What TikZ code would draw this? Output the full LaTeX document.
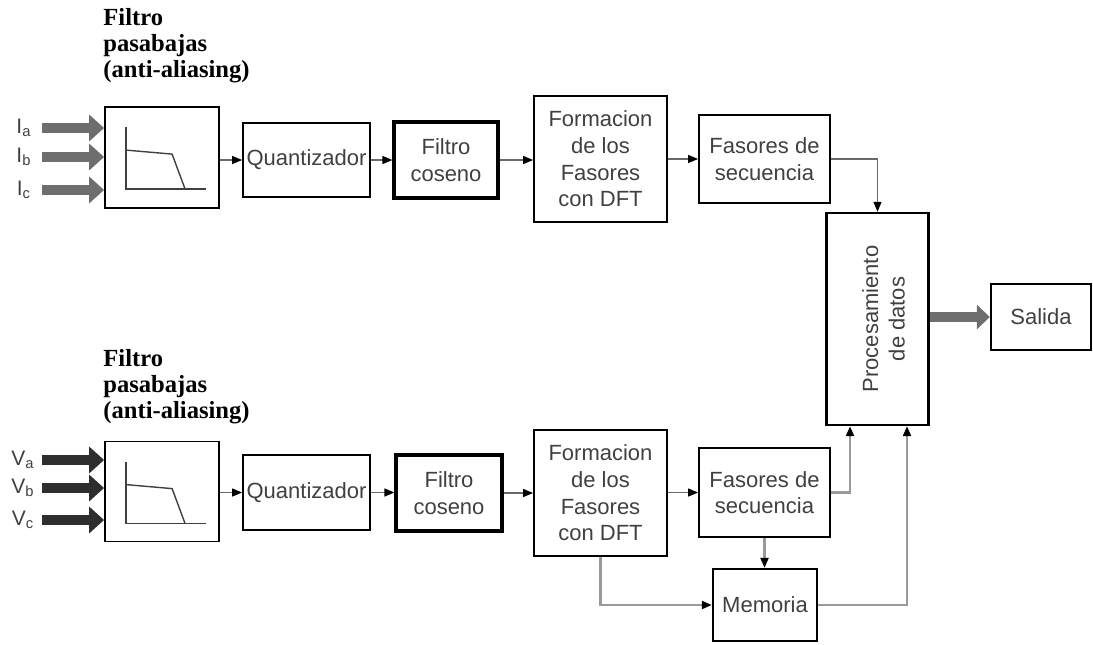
\documentclass[tikz,border=0pt]{standalone}
\usepackage{fontspec}
\setmainfont{Liberation Serif}
\setsansfont{Liberation Sans}
\usetikzlibrary{positioning, arrows.meta, calc}
\definecolor{bxtext}{HTML}{404040}
\definecolor{lngray}{HTML}{6A6A6A}
\definecolor{fbgray}{HTML}{9A9A9A}
\definecolor{inlight}{HTML}{6E6E6E}
\definecolor{indark}{HTML}{2E2E2E}

\begin{document}
\begin{tikzpicture}[x=0.5pt, y=-0.5pt,
    blk/.style={draw=black, line width=0.9pt, text=bxtext, font=\sffamily\fontsize{11}{13.3}\selectfont, align=center, inner sep=0pt},
    hv/.style={blk, line width=1.6pt},
    ln/.style={draw=lngray, line width=0.6pt, -{Triangle[length=5pt,width=4pt,color=black]}},
    fb/.style={ln, draw=fbgray, line width=1.1pt},
    inp/.style={line width=5pt, -{Triangle[length=7.5pt,width=13pt]}},
    lbl/.style={text=bxtext, font=\sffamily\fontsize{10.5}{12}\selectfont, inner sep=0pt},
    ttl/.style={font=\bfseries\fontsize{12.3}{13}\selectfont, align=left, anchor=north west, inner sep=0pt}]
  \useasboundingbox (0,0) rectangle (1093,644);

  % titles
  \node[ttl] (ttlA) at (103,8) {Filtro\\pasabajas\\(anti-aliasing)};
  \node[ttl] (ttlB) at (103,349) {Filtro\\pasabajas\\(anti-aliasing)};

  % upper chain (currents)
  \node[blk, minimum width=57pt, minimum height=50.5pt] (filtA) at (162,157.5) {};
  \node[blk, minimum width=63.5pt, minimum height=37pt] (quanA) at (306.5,160) {Quantizador};
  \node[hv, minimum width=52pt, minimum height=38pt] (cosA) at (446,160) {Filtro\\coseno};
  \node[blk, minimum width=66.5pt, minimum height=63pt] (dftA) at (600.5,159) {Formacion\\de los\\Fasores\\con DFT};
  \node[blk, minimum width=65.5pt, minimum height=44pt] (seqA) at (764.5,159) {Fasores de\\secuencia};

  % processing and output
  \node[blk, line width=1.2pt, minimum width=51pt, minimum height=106pt] (proc) at (877.5,319) {};
  \node[blk, draw=none, rotate=90] (procT) at ([xshift=3pt]proc.center) {Procesamiento\\de datos};
  \node[blk, line width=1.2pt, minimum width=50pt, minimum height=33pt] (sal) at (1041,317) {Salida};

  % lower chain (voltages)
  \node[blk, minimum width=57pt, minimum height=50pt] (filtB) at (162,491.5) {};
  \node[blk, minimum width=63.5pt, minimum height=37.5pt] (quanB) at (306.5,492.5) {Quantizador};
  \node[hv, minimum width=53pt, minimum height=38pt] (cosB) at (449,493) {Filtro\\coseno};
  \node[blk, minimum width=66.5pt, minimum height=63pt] (dftB) at (600.5,493) {Formacion\\de los\\Fasores\\con DFT};
  \node[blk, minimum width=65.5pt, minimum height=44.5pt] (seqB) at (764.5,492.5) {Fasores de\\secuencia};
  \node[blk, line width=1.2pt, minimum width=52pt, minimum height=36pt] (mem) at (765,605) {Memoria};

  % low-pass sketch inside the filters
  \foreach \f in {filtA,filtB}{
    \begin{scope}[shift={(\f.north west)}, line width=0.7pt, bxtext]
      \draw (22,21) -- (22,83) -- (102,83);
      \draw (22,44) -- (68,48) -- (81,83);
    \end{scope}
  }

  % inputs
  \foreach \n/\y in {a/128, b/157, c/190}{
    \node[lbl] (i\n) at (24,\y) {I\textsubscript{\n}};
    \coordinate (si\n) at (42,\y);
    \draw[inp, inlight] (si\n) -- (si\n -| filtA.west);
  }
  \foreach \n/\y in {a/460, b/488, c/520}{
    \node[lbl] (v\n) at (23,\y) {V\textsubscript{\n}};
    \coordinate (sv\n) at (42,\y);
    \draw[inp, indark] (sv\n) -- (sv\n -| filtB.west);
  }

  % upper connectors
  \draw[ln] (filtA.east |- quanA.west) -- (quanA.west);
  \draw[ln] (quanA) -- (cosA);
  \draw[ln] (cosA.east) -- (cosA.east -| dftA.west);
  \draw[ln] (dftA) -- (seqA);
  \draw[ln] (seqA.east) -| (proc.north);

  % lower connectors
  \draw[ln] (filtB.east |- quanB.west) -- (quanB.west);
  \draw[ln] (quanB.east) -- (quanB.east -| cosB.west);
  \draw[ln] (cosB.east) -- (cosB.east -| dftB.west);
  \draw[ln] (dftB.east |- seqB.west) -- (seqB.west);
  \draw[fb] (seqB.east) -| ($(proc.south)+(-27.5,0)$);
  \draw[fb] (seqB.south) -- (seqB.south |- mem.north);
  \draw[fb] (dftB.south) |- (mem.west);
  \draw[fb] (mem.east) -| ($(proc.south)+(29.5,0)$);

  % output
  \draw[line width=5pt, inlight, -{Triangle[length=6.5pt,width=12pt]}] (proc.east |- sal.west) -- (sal.west);
\end{tikzpicture}
\end{document}
